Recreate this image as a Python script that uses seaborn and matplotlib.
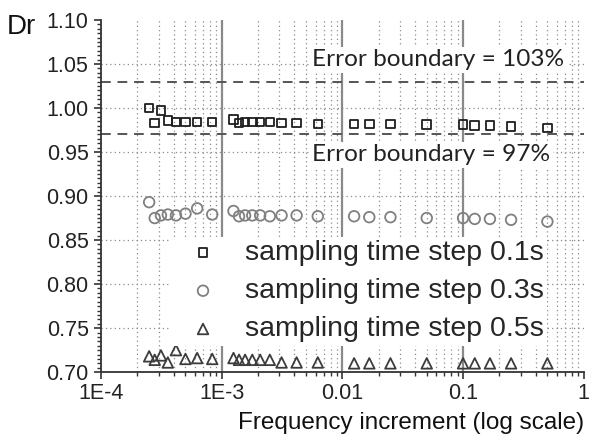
import numpy as np
import pandas as pd
import matplotlib
matplotlib.use("Agg")
import matplotlib.pyplot as plt
import matplotlib.ticker as mticker
import seaborn as sns

# ---- data ----
freq_inc = [2.5e-4, 2.78e-4, 3.13e-4, 3.57e-4, 4.17e-4, 5.0e-4, 6.25e-4, 8.33e-4,
            1.25e-3, 1.39e-3, 1.56e-3, 1.79e-3, 2.08e-3, 2.5e-3, 3.13e-3, 4.17e-3,
            6.25e-3, 0.0125, 0.0167, 0.025, 0.05, 0.1, 0.125, 0.167, 0.25, 0.5]
dr_01 = [1.000, 0.983, 0.997, 0.986, 0.984, 0.984, 0.984, 0.984,
         0.987, 0.983, 0.984, 0.984, 0.984, 0.984, 0.983, 0.983,
         0.982, 0.982, 0.982, 0.982, 0.981, 0.981, 0.980, 0.980, 0.979, 0.977]
dr_03 = [0.893, 0.875, 0.878, 0.879, 0.878, 0.880, 0.886, 0.879,
         0.883, 0.877, 0.878, 0.878, 0.878, 0.877, 0.878, 0.878,
         0.877, 0.877, 0.876, 0.876, 0.875, 0.875, 0.874, 0.874, 0.873, 0.871]
dr_05 = [0.718, 0.714, 0.719, 0.711, 0.725, 0.715, 0.716, 0.715,
         0.716, 0.714, 0.714, 0.714, 0.714, 0.714, 0.711, 0.711,
         0.711, 0.710, 0.710, 0.710, 0.710, 0.710, 0.710, 0.710, 0.710, 0.710]
series_labels = ["sampling time step 0.1s", "sampling time step 0.3s", "sampling time step 0.5s"]
bound_upper = 1.03
bound_lower = 0.97
bound_texts = ["Error boundary = 103%", "Error boundary = 97%"]
xtick_vals = [1e-4, 1e-3, 1e-2, 1e-1, 1]
xtick_labels = ["1E-4", "1E-3", "0.01", "0.1", "1"]

sns.set_theme(style="white")
plt.rcParams['font.family'] = ['Liberation Sans', 'DejaVu Sans']

fig = plt.figure(figsize=(5.95, 4.42), dpi=100)
ax = fig.add_axes([0.170, 0.158, 0.811, 0.797])

styles = [("s", "#1e1e1e", 38), ("o", "#808080", 58), ("^", "#3c3c3c", 58)]
for vals, lab, (m, c, s) in zip([dr_01, dr_03, dr_05], series_labels, styles):
    df = pd.DataFrame({"x": freq_inc, "y": vals})
    sns.scatterplot(data=df, x="x", y="y", ax=ax, marker=m, s=s, color=c,
                    facecolor="none", edgecolor=c, linewidth=1.3, label=lab, zorder=3)

ax.set_xscale("log")
ax.set_xlim(1e-4, 1.0)
ax.set_ylim(0.70, 1.10)

ax.axhline(bound_upper, color="#555555", lw=1.4, ls=(0, (5, 3.5)), zorder=2)
ax.axhline(bound_lower, color="#555555", lw=1.4, ls=(0, (5, 3.5)), zorder=2)

tfont = ['Lato', 'DejaVu Sans']
ax.text(5.6e-3, 1.0545, bound_texts[0], family=tfont, fontsize=17.6, color="#222222",
        ha="left", va="center", zorder=4,
        bbox=dict(facecolor="white", edgecolor="none", pad=2))
ax.text(5.6e-3, 0.9466, bound_texts[1], family=tfont, fontsize=17.6, color="#222222",
        ha="left", va="center", zorder=4,
        bbox=dict(facecolor="white", edgecolor="none", pad=2))

# ticks
ax.xaxis.set_major_locator(mticker.FixedLocator(xtick_vals))
ax.xaxis.set_major_formatter(mticker.FixedFormatter(xtick_labels))
ax.xaxis.set_minor_locator(mticker.LogLocator(base=10, subs=np.arange(2, 10), numticks=20))
ax.xaxis.set_minor_formatter(mticker.NullFormatter())
ax.yaxis.set_major_locator(mticker.MultipleLocator(0.05))
ax.yaxis.set_minor_locator(mticker.MultipleLocator(0.005))
ax.yaxis.set_major_formatter(mticker.FormatStrFormatter("%.2f"))

ax.tick_params(axis="both", which="major", direction="out", length=5, width=1.2,
               color="#333333", labelsize=15.5, labelcolor="#222222",
               left=True, bottom=True)
ax.tick_params(axis="x", which="major", pad=3)
ax.tick_params(axis="y", which="major", pad=4)
ax.tick_params(axis="both", which="minor", direction="out", length=3, width=1,
               color="#333333", left=True, bottom=True)

# grid
ax.grid(False)
ax.grid(which="major", axis="y", ls=(0, (1, 2.5)), color="#8c8c8c", lw=0.9, zorder=0)
ax.grid(which="minor", axis="x", ls=(0, (1, 2.5)), color="#8c8c8c", lw=0.9, zorder=0)
ax.grid(which="major", axis="x", ls="-", color="#8a8a8a", lw=1.6, zorder=0)
fig.canvas.draw()
for t in ax.xaxis.get_major_ticks():
    if t.get_loc() >= 1 or t.get_loc() <= 1e-4:
        t.gridline.set_visible(False)
for t in ax.yaxis.get_major_ticks():
    if t.get_loc() <= 0.70 + 1e-9 or t.get_loc() >= 1.10 - 1e-9:
        t.gridline.set_visible(False)
ax.set_axisbelow(True)

for sp in ["top", "right"]:
    ax.spines[sp].set_visible(False)
for sp in ["left", "bottom"]:
    ax.spines[sp].set_color("#333333")
    ax.spines[sp].set_linewidth(1.3)

ax.set_xlabel("")
ax.set_ylabel("")
fig.text(0.400, 0.030, "Frequency increment (log scale)", fontsize=17.5, color="#111111",
         ha="left", va="baseline")
fig.text(0.012, 0.940, "Dr", fontsize=20, color="#111111", ha="left", va="center")

leg = ax.legend(loc="upper left", bbox_to_anchor=(0.145, 0.385), fontsize=20.5,
                frameon=True, facecolor="white", edgecolor="none", framealpha=1,
                handletextpad=0.47, handlelength=2.0, labelspacing=0.43, borderpad=0.12,
                scatterpoints=1, markerscale=1.0, borderaxespad=0)
leg.set_zorder(5)
leg.get_frame().set_boxstyle("square", pad=0)

fig.savefig("out.png", dpi=100)
